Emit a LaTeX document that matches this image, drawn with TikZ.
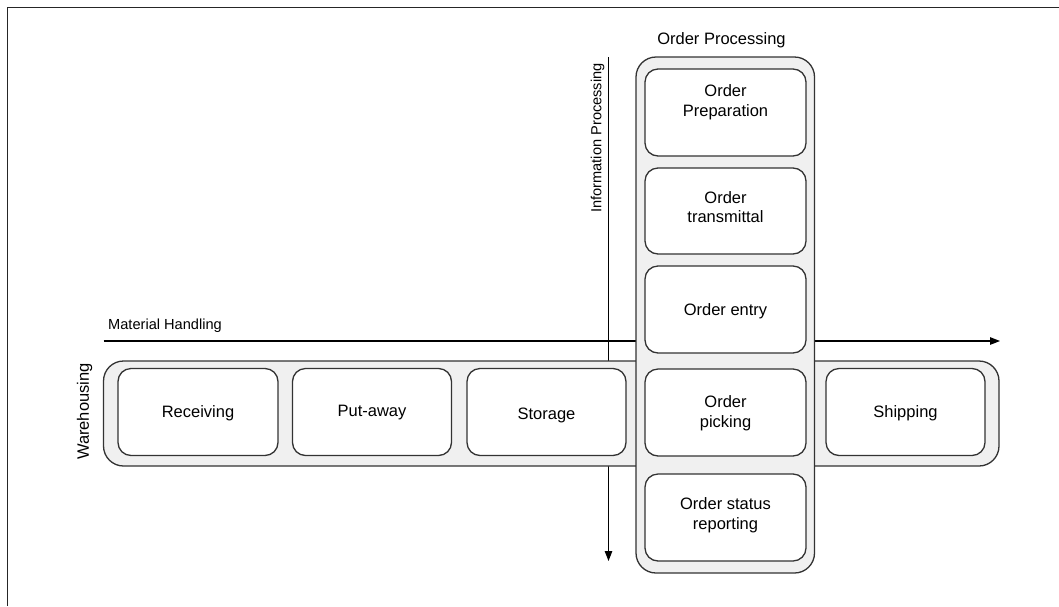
\documentclass[tikz,border=0pt]{standalone}
\usepackage{fontspec}
\setmainfont{Liberation Sans}
\usetikzlibrary{arrows.meta}
\definecolor{edge}{HTML}{333333}
\definecolor{bandfill}{HTML}{F0F0F0}
\begin{document}
\begin{tikzpicture}[x=1pt,y=-1pt,
  band/.style={draw=edge, fill=bandfill, line width=1.3pt, rounded corners=20pt, inner sep=0pt},
  stepbox/.style={draw=edge, fill=white, line width=1.3pt, rounded corners=13pt,
    minimum width=160pt, minimum height=87pt, inner sep=0pt},
  boxtext/.style={font=\fontsize{16.5}{19.8}\selectfont, align=center, inner sep=0pt},
  axis/.style={line width=1.2pt, -{Triangle[length=10pt,width=7.5pt]}},
  axislabel/.style={font=\fontsize{14.6}{17}\selectfont, inner sep=0pt},
  title/.style={font=\fontsize{16.5}{19.8}\selectfont, inner sep=0pt}]
\useasboundingbox (0,0) rectangle (1059,606);

% page frame (top and left edges)
\coordinate (fa) at (7.5,606);
\coordinate (fb) at (7.5,7.5);
\coordinate (fc) at (1059,7.5);
\draw[line width=1.8pt, black!85] (fa) -- (fb) -- (fc);

% axes
\coordinate (mh-s) at (103.5,341);
\coordinate (mh-e) at (1000,341);
\draw[axis] (mh-s) -- (mh-e);
\node[axislabel] (mh-label) at (165,325.5) {Material Handling};

\coordinate (ip-s) at (608.5,57);
\coordinate (ip-e) at (608.5,561);
\draw[axis] (ip-s) -- (ip-e);
\node[axislabel, rotate=90] (ip-label) at (597.5,138) {Information Processing};

% warehousing band
\node[band, minimum width=895.5pt, minimum height=105pt] (wh) at (551.25,413.5) {};
\node[title, rotate=90] (wh-label) at (84.5,411.5) {Warehousing};

% order processing band
\node[band, minimum width=178.5pt, minimum height=516pt] (op) at (725.25,315) {};
\node[title] (op-label) at (721.5,40.5) {Order Processing};

% warehousing steps
\node[stepbox] (recv) at (198,412) {};
\node[boxtext] (recv-t) at ([yshift=-1.5pt]recv.center) {Receiving};
\node[stepbox, minimum width=159pt] (put) at (372,412) {};
\node[boxtext] (put-t) at ([yshift=-1pt]put.center) {Put-away};
\node[stepbox, minimum width=159pt] (store) at (546.5,412) {};
\node[boxtext] (store-t) at ([yshift=-3pt]store.center) {Storage};
\node[stepbox, minimum width=159pt] (ship) at (905.5,412) {};
\node[boxtext] (ship-t) at ([yshift=-1.5pt]ship.center) {Shipping};

% order processing steps
\node[stepbox, minimum width=161pt] (prep) at (725.5,112.5) {};
\node[boxtext] (prep-t) at ([yshift=10pt]prep.center) {Order\\Preparation};
\node[stepbox, minimum width=161pt, minimum height=86pt] (trans) at (725.5,211) {};
\node[boxtext] (trans-t) at ([yshift=4pt]trans.center) {Order\\transmittal};
\node[stepbox, minimum width=161pt] (entry) at (725.5,309.5) {};
\node[boxtext] (entry-t) at ([yshift=-2pt]entry.center) {Order entry};
\node[stepbox, minimum width=161pt] (pick) at (725.5,412.5) {};
\node[boxtext] (pick-t) at ([yshift=-1pt]pick.center) {Order\\picking};
\node[stepbox, minimum width=161pt] (status) at (725.5,517.5) {};
\node[boxtext] (status-t) at ([yshift=2pt]status.center) {Order status\\reporting};
\end{tikzpicture}
\end{document}
